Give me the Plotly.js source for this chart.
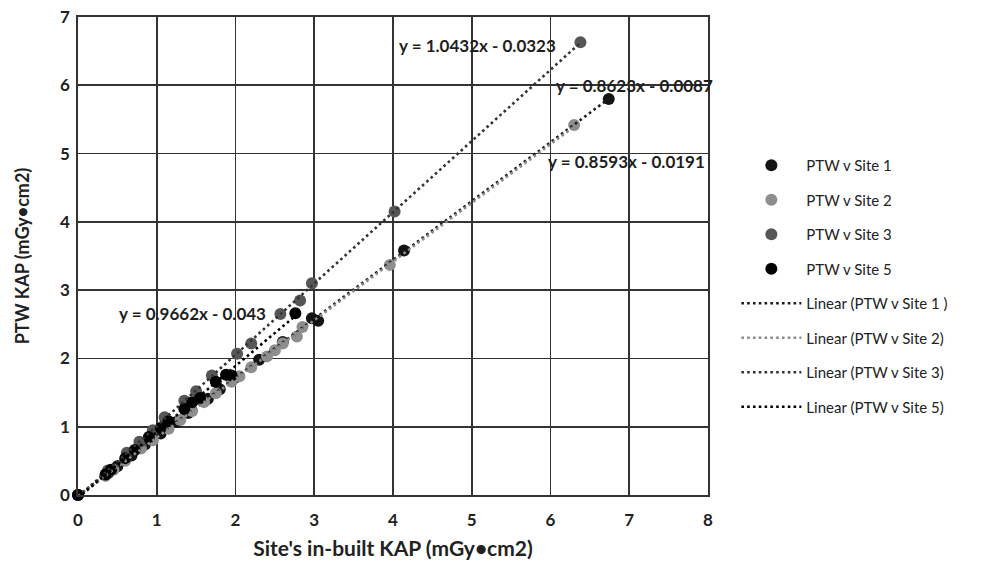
<!DOCTYPE html>
<html>
<head>
<meta charset="utf-8">
<script src="https://cdn.plot.ly/plotly-3.0.1.min.js"></script>
<style>html,body{margin:0;padding:0;background:#fff;}#chart{width:988px;height:565px;}</style>
</head>
<body>
<div id="chart"></div>
<script>
// ---- Data ----
const seriesNames = ["PTW v Site 1", "PTW v Site 2", "PTW v Site 3", "PTW v Site 5"];

const site1X = [0, 0.38, 0.5, 0.68, 0.85, 1.05, 1.25, 1.4, 1.65, 1.8, 2.0, 2.3, 2.6, 2.97, 3.05, 4.14, 6.74];
const site1Y = [0, 0.32, 0.42, 0.58, 0.74, 0.9, 1.07, 1.2, 1.41, 1.55, 1.72, 1.98, 2.24, 2.59, 2.55, 3.58, 5.8];

const site2X = [0, 0.35, 0.45, 0.6, 0.8, 0.95, 1.15, 1.3, 1.45, 1.6, 1.75, 1.95, 2.05, 2.2, 2.4, 2.5, 2.6, 2.78, 2.85, 3.96, 6.3];
const site2Y = [0, 0.28, 0.37, 0.5, 0.68, 0.8, 0.97, 1.1, 1.23, 1.36, 1.49, 1.66, 1.74, 1.87, 2.03, 2.12, 2.22, 2.32, 2.46, 3.37, 5.42];

const site3X = [0, 0.38, 0.62, 0.78, 0.95, 1.1, 1.35, 1.5, 1.7, 2.02, 2.2, 2.57, 2.82, 2.97, 4.02, 6.38];
const site3Y = [0, 0.36, 0.62, 0.78, 0.95, 1.14, 1.38, 1.52, 1.75, 2.07, 2.22, 2.65, 2.85, 3.1, 4.15, 6.63];

const site5X = [0, 0.35, 0.42, 0.6, 0.72, 0.9, 1.05, 1.15, 1.35, 1.45, 1.55, 1.75, 1.88, 1.95, 2.76];
const site5Y = [0, 0.3, 0.37, 0.54, 0.66, 0.85, 0.98, 1.08, 1.26, 1.36, 1.42, 1.66, 1.76, 1.75, 2.66];

// Linear trendline coefficients (slope, intercept) as printed on the chart
const trendSlopes = [0.8623, 0.8593, 1.0432, 0.9662];
const trendIntercepts = [-0.0087, -0.0191, -0.0323, -0.043];

const xTicks = [0, 1, 2, 3, 4, 5, 6, 7, 8];
const yTicks = [0, 1, 2, 3, 4, 5, 6, 7];

// ---- Styling ----
const markerColors = ["#141414", "#8e8e8e", "#565656", "#000000"];
const lineColors = ["#1a1a1a", "#8a8a8a", "#333333", "#000000"];
const xs = [site1X, site2X, site3X, site5X];
const ys = [site1Y, site2Y, site3Y, site5Y];

const traces = [];
for (let i = 0; i < 4; i++) {
  traces.push({
    type: "scatter", mode: "markers", name: seriesNames[i],
    x: xs[i], y: ys[i], legendgroup: "g" + i, cliponaxis: false,
    marker: {color: markerColors[i], size: 12}
  });
}
for (let i = 0; i < 4; i++) {
  const xmin = Math.min(...xs[i]), xmax = Math.max(...xs[i]);
  traces.push({
    type: "scatter", mode: "lines",
    name: "Linear (" + seriesNames[i] + (i === 0 ? " )" : ")"),
    x: [xmin, xmax],
    y: [trendSlopes[i] * xmin + trendIntercepts[i], trendSlopes[i] * xmax + trendIntercepts[i]],
    legendgroup: "l" + i,
    line: {color: lineColors[i], width: 2.6, dash: "2.6px,3.2px"}
  });
}

function eqText(i) {
  const b = trendIntercepts[i];
  return "y = " + trendSlopes[i] + "x - " + Math.abs(b);
}

const FAM = "Lato, 'Open Sans', sans-serif";
const annFont = {family: FAM, size: 17, color: "#1e1e1e", weight: "bold"};
const annotations = [
  {x: 5.07, y: 6.59, text: eqText(2)},
  {x: 7.07, y: 5.99, text: eqText(0)},
  {x: 6.97, y: 4.88, text: eqText(1)},
  {x: 1.45, y: 2.66, text: eqText(3)}
].map(a => Object.assign({xref: "x", yref: "y", showarrow: false, font: annFont}, a));

const tickFont = {family: FAM, size: 17, color: "#222", weight: "bold"};
const layout = {
  width: 988, height: 565,
  margin: {l: 78, r: 280, t: 17, b: 70},
  paper_bgcolor: "#fff", plot_bgcolor: "#fff",
  showlegend: true,
  xaxis: {
    range: [0, 8], tickvals: xTicks, ticktext: xTicks.map(String),
    showgrid: true, gridcolor: "#333", gridwidth: 1.8,
    zeroline: true, zerolinecolor: "#222", zerolinewidth: 2,
    showline: true, mirror: true, linecolor: "#333", linewidth: 1.8,
    ticks: "", tickfont: tickFont, fixedrange: true, ticklabelstandoff: 9,
    title: {text: "Site's in-built KAP (mGy•cm2)", font: {family: FAM, size: 21, color: "#222", weight: "bold"}, standoff: 12}
  },
  yaxis: {
    range: [0, 7], tickvals: yTicks, ticktext: yTicks.map(String),
    showgrid: true, gridcolor: "#333", gridwidth: 1.8,
    zeroline: true, zerolinecolor: "#222", zerolinewidth: 2,
    showline: true, mirror: true, linecolor: "#333", linewidth: 1.8,
    ticks: "", tickfont: tickFont, fixedrange: true, ticklabelstandoff: 3,
    title: {text: "PTW KAP (mGy•cm2)", font: {family: FAM, size: 18, color: "#222", weight: "bold"}, standoff: 26}
  },
  legend: {
    x: 1.045, xanchor: "left", y: 0.724, yanchor: "top",
    font: {family: FAM, size: 15, color: "#222"},
    itemwidth: 60, tracegroupgap: 12, bgcolor: "rgba(0,0,0,0)"
  },
  annotations: annotations
};

Plotly.newPlot("chart", traces, layout, {displayModeBar: false, staticPlot: true});
</script>
</body>
</html>
